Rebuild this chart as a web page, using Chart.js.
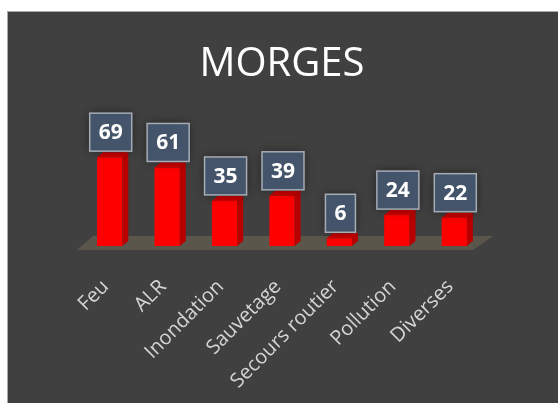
<!DOCTYPE html>
<html>
<head>
<meta charset="utf-8">
<script src="https://cdn.jsdelivr.net/npm/chart.js@4.4.0/dist/chart.umd.min.js"></script>
<style>
  html, body { margin: 0; padding: 0; background: #ffffff; }
  #frame {
    position: absolute; left: 7px; top: 11px;
    width: 550px; height: 391px;
    background: #404040;
    border-left: 1px solid #a9a9a9;
    border-top: 1px solid #a9a9a9;
  }
  canvas { display: block; }
</style>
</head>
<body>
<div id="frame"><canvas id="chart" width="550" height="391"></canvas></div>
<script>
const categories = ["Feu", "ALR", "Inondation", "Sauvetage", "Secours routier", "Pollution", "Diverses"];
const interventions = [69, 61, 35, 39, 6, 24, 22];
const chartTitle = "MORGES";

// depth of the fake 3D bars
const DX = 6, DY = 5;

const floorPlugin = {
  id: "floor",
  beforeDatasetsDraw(chart) {
    const { ctx, chartArea } = chart;
    const y0 = chart.scales.y.getPixelForValue(0);
    ctx.save();
    ctx.fillStyle = "#5a564b";
    ctx.beginPath();
    ctx.moveTo(chartArea.left - 4, y0 + 4);
    ctx.lineTo(chartArea.left + 12, y0 - 10);
    ctx.lineTo(chartArea.right + 10, y0 - 10);
    ctx.lineTo(chartArea.right - 10, y0 + 4);
    ctx.closePath();
    ctx.fill();
    ctx.restore();
  }
};

const boxes3d = {
  id: "boxes3d",
  afterDatasetsDraw(chart) {
    const { ctx } = chart;
    const meta = chart.getDatasetMeta(0);
    ctx.save();
    meta.data.forEach((bar, i) => {
      const half = bar.width / 2;
      const l = bar.x - half, r = bar.x + half;
      // side
      ctx.fillStyle = "#b80000";
      ctx.beginPath();
      ctx.moveTo(r, bar.y);
      ctx.lineTo(r + DX, bar.y - DY);
      ctx.lineTo(r + DX, bar.base - DY);
      ctx.lineTo(r, bar.base);
      ctx.closePath();
      ctx.fill();
      // top
      ctx.fillStyle = "#cc0000";
      ctx.beginPath();
      ctx.moveTo(l, bar.y);
      ctx.lineTo(r, bar.y);
      ctx.lineTo(r + DX, bar.y - DY);
      ctx.lineTo(l + DX, bar.y - DY);
      ctx.closePath();
      ctx.fill();

      // value label box
      const txt = String(interventions[i]);
      ctx.font = "bold 21px 'Open Sans'";
      const w = ctx.measureText(txt).width + 18;
      const h = 38;
      const cx = bar.x + 1;
      const bottom = bar.y - 6;
      ctx.save();
      ctx.shadowColor = "rgba(0,0,0,0.45)";
      ctx.shadowBlur = 10;
      ctx.fillStyle = "#44546a";
      ctx.fillRect(cx - w / 2, bottom - h, w, h);
      ctx.restore();
      ctx.strokeStyle = "#a6acb4";
      ctx.lineWidth = 1.5;
      ctx.strokeRect(cx - w / 2, bottom - h, w, h);
      ctx.fillStyle = "#ffffff";
      ctx.textAlign = "center";
      ctx.textBaseline = "middle";
      ctx.fillText(txt, cx, bottom - h / 2 + 1);
    });
    ctx.restore();
  }
};

new Chart(document.getElementById("chart"), {
  type: "bar",
  data: {
    labels: categories,
    datasets: [{
      data: interventions,
      backgroundColor: "#ff0000",
      borderWidth: 0,
      barPercentage: 0.44,
      categoryPercentage: 1
    }]
  },
  options: {
    responsive: false,
    animation: false,
    layout: { padding: { left: 73, right: 75, top: 0, bottom: 0 } },
    plugins: {
      legend: { display: false },
      tooltip: { enabled: false },
      title: {
        display: true,
        text: chartTitle,
        color: "#ffffff",
        font: { family: "'Open Sans'", size: 40, weight: "normal", lineHeight: 1.2 },
        padding: { top: 29, bottom: 54 }
      }
    },
    scales: {
      x: {
        grid: { display: false },
        border: { display: false },
        ticks: {
          color: "#d4d4d4",
          font: { family: "'Open Sans'", size: 20 },
          minRotation: 45,
          maxRotation: 45,
          padding: 21,
          labelOffset: -4
        },
        afterFit(axis) { axis.height = 157; }
      },
      y: {
        display: false,
        min: 0,
        max: 80
      }
    }
  },
  plugins: [floorPlugin, boxes3d]
});
</script>
</body>
</html>
